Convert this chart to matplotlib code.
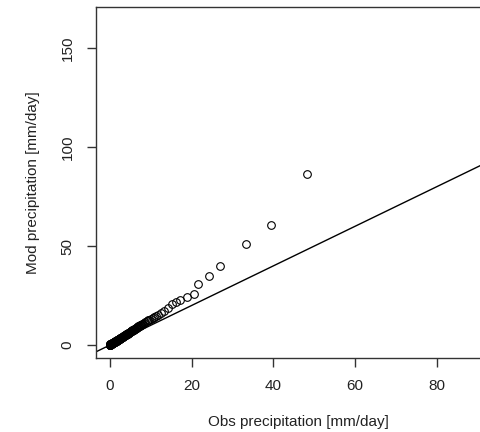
import numpy as np
import matplotlib.pyplot as plt

plt.rcParams['font.family'] = ['Liberation Sans', 'DejaVu Sans']

# sorted quantiles, observed vs modelled precipitation
obs = [0.0, 0.0, 0.0, 0.0, 0.0, 0.0, 0.05, 0.1, 0.1, 0.15, 0.2, 0.25, 0.3,
       0.35, 0.4, 0.45, 0.5, 0.55, 0.6, 0.65, 0.7, 0.75, 0.8, 0.85, 0.9, 0.95,
       1.0, 1.05, 1.1, 1.15, 1.2, 1.25, 1.3, 1.35, 1.4, 1.45, 1.5, 1.55, 1.6,
       1.65, 1.7, 1.75, 1.8, 1.85, 1.9, 1.95, 2.0, 2.05, 2.1, 2.15, 2.2, 2.25,
       2.3, 2.35, 2.4, 2.45, 2.5, 2.6, 2.7, 2.8, 2.9, 3.0, 3.1, 3.2, 3.3, 3.4,
       3.5, 3.6, 3.7, 3.8, 3.9, 4.0, 4.1, 4.2, 4.3, 4.4, 4.5, 4.6, 4.7, 4.8,
       4.9, 5.0, 5.1, 5.2, 5.3, 5.4, 5.5, 5.65, 5.8, 5.9, 6.0, 6.15, 6.3, 6.4,
       6.5, 6.65, 6.8, 6.95, 7.1, 7.25, 7.4, 7.55, 7.7, 7.85, 8.0, 8.3, 8.6,
       9.0, 9.3, 9.6, 10.0, 10.4, 10.8, 11.3, 11.8, 12.4, 13.2, 14.1, 15.2,
       16.2, 17.2, 18.8, 20.6, 21.6, 24.3, 26.9, 33.2, 39.3, 48.1]
mod = [0.0, 0.05, 0.1, 0.15, 0.2, 0.25, 0.3, 0.35, 0.4, 0.45, 0.5, 0.55, 0.6,
       0.65, 0.7, 0.75, 0.8, 0.85, 0.9, 0.95, 1.0, 1.05, 1.1, 1.2, 1.3, 1.35,
       1.4, 1.45, 1.5, 1.6, 1.7, 1.75, 1.8, 1.85, 1.9, 1.95, 2.0, 2.1, 2.2,
       2.25, 2.3, 2.35, 2.4, 2.5, 2.6, 2.65, 2.7, 2.75, 2.8, 2.9, 3.0, 3.05,
       3.1, 3.15, 3.2, 3.3, 3.4, 3.5, 3.65, 3.8, 3.9, 4.1, 4.2, 4.3, 4.45, 4.6,
       4.7, 4.9, 5.0, 5.1, 5.3, 5.4, 5.5, 5.65, 5.8, 5.95, 6.1, 6.2, 6.3, 6.45,
       6.6, 6.75, 6.9, 7.0, 7.1, 7.25, 7.4, 7.6, 7.8, 7.95, 8.1, 8.3, 8.5, 8.65,
       8.8, 9.0, 9.2, 9.4, 9.6, 9.8, 10.0, 10.15, 10.3, 10.5, 10.7, 11.1, 11.5,
       12.0, 12.4, 12.8, 13.3, 13.8, 14.3, 14.8, 15.4, 16.0, 17.2, 18.5, 20.5,
       21.6, 22.6, 24.2, 26.0, 31.0, 34.9, 39.7, 50.8, 60.4, 86.5]

fig = plt.figure(figsize=(4.8, 4.32), dpi=100)
ax = fig.add_axes([0.2, 0.172, 0.84375, 0.8125])

ax.plot(obs, mod, 'o', mfc='none', mec='black', ms=5.5, mew=0.8)
xx = np.array([-10, 200])
ax.plot(xx, xx, color='black', lw=1)

ax.set_xlim(-3.43, 95.7)
ax.set_ylim(-6.4, 170.9)
ax.set_xticks([0, 20, 40, 60, 80])
ax.set_yticks([0, 50, 100, 150])
for s in ax.spines.values():
    s.set_color('#333333')
    s.set_linewidth(1)
ax.tick_params(length=6.5, width=1, color='#333333', labelsize=11, pad=9,
               labelcolor='#222222')
plt.setp(ax.get_yticklabels(), rotation=90, va='center')

ax.set_xlabel('Obs precipitation [mm/day]', fontsize=11, va='center',
              color='#222222')
ax.set_ylabel('Mod precipitation [mm/day]', fontsize=11, va='center',
              color='#222222')
ax.xaxis.set_label_coords(0.5, -0.183)
ax.yaxis.set_label_coords(-0.1556, 0.5)

fig.savefig('out.png', dpi=100)
